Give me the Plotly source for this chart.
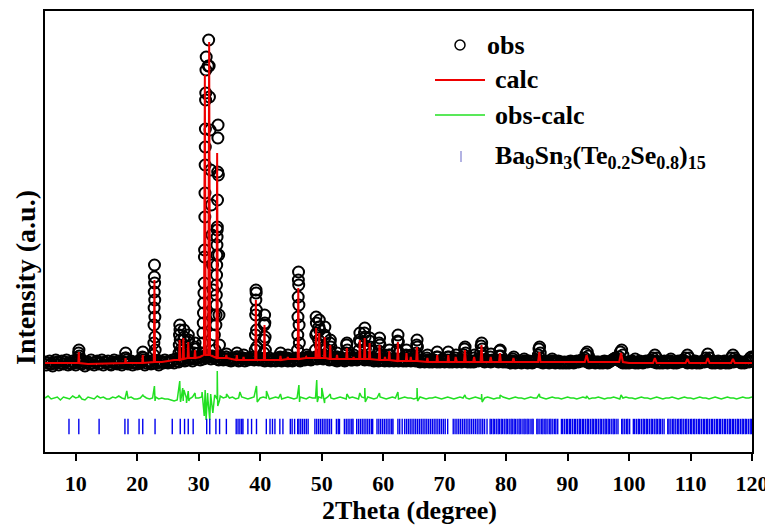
import numpy as np
import plotly.graph_objects as go

# ---------------- data (intensity in arbitrary units) ----------------
# observed scan: background samples every 0.25 deg starting at 5 deg
scan_start = 5.0
scan_step = 0.25
obs_scan_counts = [
    13, 10, 12, 14, 11, 9, 12, 15, 13, 10, 12, 14, 11, 13, 15, 10, 12, 11, 14, 12,
    10, 13, 15, 12, 11, 14, 9, 12, 13, 11, 15, 12, 10, 13, 14, 11, 12, 15, 10, 13,
    12, 14, 11, 10, 13, 15, 12, 11, 14, 12, 10, 13, 12, 15, 11, 13, 14, 10, 12, 13,
    11, 14, 12, 13, 15, 10, 12, 14, 13, 11, 12, 15, 13, 12, 10, 14, 13, 12, 15, 13,
    12, 14, 13, 15, 12, 16, 14, 13, 17, 15, 16, 14, 18, 15, 17, 16, 14, 17, 16, 18,
    17, 15, 18, 16, 19, 17, 20, 18, 16, 19, 17, 18, 16, 15, 18, 17, 15, 16, 18, 15,
    16, 14, 17, 15, 16, 18, 14, 15, 17, 16, 14, 16, 15, 17, 16, 18, 15, 17, 16, 15,
    17, 15, 16, 14, 16, 15, 17, 14, 15, 16, 14, 17, 15, 16, 14, 15, 17, 16, 14, 15,
    16, 14, 15, 17, 16, 15, 14, 16, 17, 15, 16, 18, 17, 15, 16, 17, 18, 16, 19, 17,
    18, 16, 17, 19, 16, 15, 17, 16, 15, 17, 14, 16, 15, 17, 16, 14, 15, 17, 16, 15,
    15, 16, 17, 15, 16, 18, 17, 16, 15, 17, 16, 15, 17, 16, 14, 15, 16, 14, 15, 16,
    15, 14, 16, 15, 14, 16, 15, 14, 15, 16, 14, 15, 16, 14, 15, 14, 16, 15, 14, 15,
    15, 14, 16, 14, 13, 15, 14, 13, 14, 15, 13, 14, 13, 15, 14, 13, 14, 13, 15, 14,
    13, 14, 15, 13, 14, 13, 15, 14, 13, 14, 15, 13, 14, 15, 14, 13, 14, 13, 14, 13,
    14, 15, 14, 16, 15, 14, 13, 14, 15, 14, 13, 15, 14, 15, 14, 13, 15, 14, 13, 14,
    13, 14, 13, 12, 14, 13, 12, 13, 14, 13, 12, 13, 14, 13, 12, 14, 13, 12, 13, 14,
    15, 14, 13, 14, 12, 13, 14, 13, 12, 13, 14, 13, 12, 13, 14, 12, 13, 12, 13, 12,
    13, 12, 14, 13, 12, 13, 14, 13, 14, 15, 14, 15, 14, 13, 12, 13, 14, 13, 12, 13,
    13, 12, 13, 12, 14, 13, 12, 13, 14, 15, 16, 17, 16, 15, 14, 13, 12, 13, 12, 13,
    12, 13, 14, 13, 12, 13, 12, 14, 13, 12, 13, 14, 13, 14, 15, 14, 13, 14, 12, 13,
    12, 13, 12, 14, 13, 12, 13, 14, 13, 12, 13, 12, 14, 13, 14, 15, 14, 13, 12, 13,
    13, 12, 13, 14, 12, 13, 12, 13, 14, 13, 14, 15, 14, 13, 12, 13, 12, 13, 14, 12,
    12, 13, 14, 12, 13, 12, 13, 14, 13, 14, 15, 14, 13, 12, 13, 12, 13, 14, 13, 14,
    16,
]

# observed points on the Bragg peaks
obs_peak_2theta = [
    10.42, 10.47, 10.52, 10.57,
    18.05, 18.12, 18.18,
    20.85, 20.92, 20.98,
    22.68, 22.71, 22.73, 22.75, 22.77, 22.79, 22.81, 22.83, 22.85, 22.87, 22.89, 22.92,
    26.80, 26.84, 26.88, 26.92, 26.96, 27.00, 27.05,
    27.50, 27.55, 27.60, 27.65, 27.70,
    28.20, 28.26, 28.31, 28.36, 28.42,
    29.30, 29.36, 29.41, 29.47,
    30.60, 30.66, 30.70, 30.74, 30.78, 30.82, 30.86, 30.90,
    30.93, 30.96, 31.00, 31.02, 31.05, 31.07, 31.09, 31.12, 31.15, 31.18, 31.22,
    31.55, 31.62, 31.70, 31.75,
    31.85, 31.95, 32.05, 32.15, 32.25, 32.35, 32.45, 32.55, 32.65,
    32.80, 32.83, 32.85, 32.87, 32.89, 32.91, 32.93, 32.95, 32.97, 32.99, 33.01, 33.03,
    33.06, 33.09, 33.12, 33.15, 33.20, 33.25, 33.30, 33.38,
    34.45, 34.55,
    36.15, 36.22, 36.30, 37.25, 37.32,
    39.20, 39.24, 39.27, 39.30, 39.32, 39.35, 39.38, 39.41, 39.45,
    40.60, 40.64, 40.68, 40.72, 40.76, 40.80, 40.85,
    43.25, 43.32, 43.40, 44.45, 44.52,
    46.08, 46.12, 46.15, 46.18, 46.21, 46.24, 46.27, 46.30, 46.33, 46.37,
    47.45, 47.55,
    49.00, 49.05, 49.10, 49.14, 49.18,
    49.50, 49.56, 49.62, 49.68, 49.74,
    50.40, 50.46, 50.52, 50.58, 50.65,
    51.30, 51.36, 51.42, 51.48,
    52.45, 52.52, 52.58,
    54.00, 54.06, 54.12, 54.18,
    55.15, 55.22, 55.28,
    56.10, 56.16, 56.22, 56.28,
    56.92, 56.97, 57.02, 57.07, 57.12,
    57.72, 57.78, 57.84, 57.90,
    59.30, 59.36, 59.42, 59.48, 59.55,
    60.25, 60.32,
    60.95, 61.02, 61.08,
    62.30, 62.36, 62.42, 62.48, 62.55,
    63.72, 63.80, 63.88,
    64.45, 64.52,
    65.40, 65.46, 65.52, 65.58, 65.65,
    67.15, 67.22,
    68.70, 68.80, 68.90,
    70.50, 70.60, 70.70,
    71.75, 71.85,
    73.15, 73.25, 73.33, 73.42,
    74.75, 74.85,
    75.85, 75.95, 76.03, 76.12, 76.22,
    77.45, 77.55,
    78.85, 78.95, 79.05, 79.15,
    81.10, 81.25,
    82.95,
    85.25, 85.35, 85.45, 85.55,
    87.50,
    92.80, 93.00, 93.20, 93.40,
    98.40, 98.60, 98.80, 99.00,
    101.00,
    103.90, 104.20, 104.50,
    106.80,
    109.20, 109.50, 109.80,
    112.50, 112.80, 113.10,
    116.60, 116.90, 117.20,
    119.70, 119.90,
]
obs_peak_counts = [
    17, 22, 25, 19,
    17, 22, 17,
    18, 23, 17,
    20, 32, 50, 67, 83, 98, 110, 92, 75, 58, 38, 25,
    22, 30, 40, 50, 45, 35, 25,
    25, 35, 45, 38, 28,
    24, 33, 40, 35, 24,
    22, 28, 32, 26,
    22, 32, 42, 52, 62, 72, 82, 92,
    118, 125, 158, 182, 210, 228, 246, 275, 282, 305, 318,
    309, 335, 309, 278,
    245, 205, 170, 140, 110, 85, 60, 40, 25,
    50, 60, 70, 80, 90, 100, 110, 120, 130, 138, 145, 148,
    175, 203, 237, 250, 200, 120, 60, 30,
    18, 21,
    18, 22, 18, 17, 20,
    25, 40, 60, 75, 85, 82, 65, 45, 28,
    22, 35, 50, 60, 52, 38, 25,
    18, 22, 17, 17, 20,
    25, 40, 58, 78, 95, 103, 90, 70, 50, 32,
    17, 20,
    25, 40, 58, 52, 42,
    35, 48, 55, 45, 30,
    28, 40, 48, 38, 25,
    24, 32, 35, 28,
    18, 22, 18,
    22, 30, 32, 25,
    17, 20, 17,
    25, 35, 42, 33,
    30, 42, 47, 38, 26,
    25, 34, 37, 28,
    24, 32, 37, 30, 20,
    18, 20,
    20, 25, 20,
    25, 34, 40, 33, 22,
    20, 25, 19,
    18, 20,
    22, 30, 35, 28, 19,
    17, 20,
    18, 23, 18,
    18, 23, 18,
    17, 20,
    20, 26, 28, 22,
    17, 20,
    22, 29, 32, 26, 19,
    18, 21,
    19, 24, 25, 19,
    16, 18,
    16,
    20, 26, 28, 22,
    16,
    17, 21, 23, 19,
    18, 23, 25, 20,
    16,
    17, 20, 17,
    16,
    17, 20, 17,
    17, 21, 17,
    17, 20, 17,
    17, 18,
]

# calculated profile: background vertices
calc_bg_2theta = [5, 8, 12, 16, 20, 24, 26, 28.8, 30.2, 34, 38, 42, 45, 48, 52, 56,
                  60, 64, 68, 72, 75.5, 80, 85, 90, 95, 100, 105, 110, 115, 120]
calc_bg_counts = [12, 12, 11, 12, 12, 13, 15, 17, 18, 17, 15, 15, 16, 17, 16, 16,
                  15, 14, 13, 13, 13, 13, 13, 13, 13, 12, 12, 12, 12, 12]
# calculated reflections: position, base level, apex, half width (deg)
calc_peak_2theta = [10.5, 18.1, 20.9, 22.8, 26.9, 27.5, 28.3, 29.4, 31.0, 31.7, 33.0,
                    34.5, 36.2, 37.3, 39.3, 40.7, 43.3, 44.5, 46.2, 47.5, 49.1, 49.6,
                    50.5, 51.4, 52.5, 54.1, 55.2, 56.2, 57.0, 57.8, 59.4, 60.3, 61.0,
                    62.4, 63.8, 64.5, 65.5, 67.2, 68.8, 70.6, 71.8, 73.3, 74.8, 76.0,
                    77.5, 79.0, 81.2, 85.4, 93.1, 98.7, 104.2, 109.5, 112.8, 116.9]
calc_peak_base = [12, 12, 12, 13, 15, 16, 17, 17, 20, 20, 17,
                  17, 15, 15, 15, 15, 15, 16, 16, 17, 17, 17,
                  17, 16, 16, 16, 16, 16, 16, 16, 15, 15, 15,
                  14, 14, 14, 14, 13, 13, 13, 13, 13, 13, 13,
                  13, 13, 13, 13, 13, 13, 12, 12, 12, 12]
calc_peak_top = [23, 17, 20, 95, 35, 37, 33, 25, 300, 333, 222,
                 20, 20, 18, 75, 50, 19, 18, 87, 18, 47, 42,
                 38, 30, 20, 27, 18, 35, 37, 32, 30, 18, 24,
                 33, 22, 18, 28, 17, 20, 20, 18, 25, 18, 30,
                 18, 22, 17, 23, 20, 22, 17, 16, 17, 16]
calc_peak_hw = [0.08, 0.08, 0.08, 0.1, 0.1, 0.1, 0.1, 0.1, 0.15, 0.15, 0.12,
                0.1, 0.1, 0.1, 0.1, 0.1, 0.1, 0.1, 0.1, 0.1, 0.1, 0.1,
                0.1, 0.1, 0.1, 0.1, 0.1, 0.1, 0.1, 0.1, 0.1, 0.1, 0.1,
                0.1, 0.1, 0.1, 0.12, 0.12, 0.12, 0.12, 0.12, 0.15, 0.15, 0.15,
                0.15, 0.15, 0.15, 0.2, 0.3, 0.3, 0.3, 0.3, 0.3, 0.3]

# difference curve (obs - calc) every 0.5 deg, plus peak residuals
diff_start = 5.0
diff_step = 0.5
diff_scan_counts = [
    0, 2, -1, 0, 1, -2, 1, 0, -1, 2,
    0, 1, -1, -2, 1, 0, -1, 2, 0, 1,
    -1, -1, 1, 0, 2, 0, -1, 0, 1, -1,
    -1, 0, 2, 0, -1, 0, 1, -1, 0, -1,
    -1, -2, -3, -2, 0, 1, 0, -1, 1, 0,
    0, 1, 0, -1, 1, 0, -1, 2, 0, 1,
    0, 1, -1, 0, 1, 0, -1, 0, 1, 0,
    0, 1, 0, -1, 0, 1, 0, -1, 0, 1,
    0, -1, 0, 1, 0, -1, 1, 0, 0, 1,
    0, -1, 1, 0, -1, 0, 1, 0, -1, 0,
    1, 0, -1, 1, 0, 1, 0, -1, 0, 1,
    0, -1, 0, 1, 0, -1, 0, 1, 0, 0,
    -1, 0, 1, 0, -1, 0, 0, 1, 0, -1,
    0, 1, 0, -1, 0, 1, 0, 0, -1, 0,
    1, 0, -1, 0, 1, 0, -1, 0, 0, 1,
    0, -1, 0, 1, 0, 0, -1, 0, 1, 0,
    0, 1, 0, -1, 0, 1, 0, 0, -1, 0,
    1, 0, 0, -1, 0, 1, 0, -1, 0, 0,
    1, 0, -1, 0, 0, 1, 0, -1, 0, 1,
    0, 0, -1, 0, 1, 0, 0, -1, 0, 1,
    0, -1, 0, 0, 1, 0, -1, 0, 1, 0,
    0, -1, 0, 1, 0, 0, -1, 0, 1, 0,
    -1, 0, 1, 0, 0, -1, 0, 1, 0, 0,
    1,
]
diff_peak_2theta = [10.52, 18.3, 20.92, 22.8, 22.9, 26.92, 27.05, 27.4, 27.48, 27.6, 28.02,
                    28.3, 28.4, 29.4, 30.55, 30.9, 31.05, 31.2, 31.45, 31.8, 31.95, 32.3,
                    32.6, 33.02, 33.1, 33.4, 34.52, 36.7, 39.4, 39.52, 41.02, 43.3, 46.3,
                    46.4, 49.2, 49.3, 50.02, 50.48, 51.4, 54.1, 56.2, 57.02, 57.1, 59.4,
                    62.4, 65.52, 65.6, 73.3, 76.02, 76.1, 79.02, 85.4, 93.1, 98.7]
diff_peak_counts = [3, 7, 3, 12, -3, 17, -4, 10, -3, 8, -5,
                    7, -3, 5, 6, -18, 8, -22, 5, -22, 4, -15,
                    3, 27, -8, -2, 4, 6, 12, -4, 7, 4, 13,
                    -4, 18, -4, 10, -5, 4, 4, 5, 10, -4, 5,
                    6, 10, -3, 3, 4, -4, 3, 4, 2, 3]

# Bragg reflection positions of Ba9Sn3(Te0.2Se0.8)15
hkl_2theta = [
    8.9, 10.5, 13.8, 18.0, 18.5, 20.3, 20.9, 22.9, 25.7, 27.0, 27.7, 28.3, 29.1,
    31.3, 31.8, 32.8, 33.4, 34.5, 36.1, 36.4, 36.7, 37.0, 37.2, 38.0, 38.6, 39.4,
    41.0, 41.6, 42.0, 42.4, 43.2, 43.7, 44.9, 45.2, 45.6, 46.1, 46.3, 46.6, 46.9,
    47.2, 47.5, 47.8, 48.9, 49.2, 49.5, 49.8, 50.1, 50.4, 50.7, 51.0, 51.3, 51.6,
    52.4, 52.7, 52.9, 53.7, 54.0, 54.3, 54.6, 54.9, 55.1, 55.7, 56.0, 56.3, 56.6,
    56.9, 57.2, 57.5, 57.8, 58.1, 58.3, 59.0, 59.3, 59.6, 59.9, 60.2, 60.5, 60.8,
    61.1, 61.4, 61.6, 62.4, 62.7, 63.1, 63.5, 63.8, 64.1, 64.4, 64.7, 65.0, 65.3,
    65.6, 65.9, 66.2, 66.5, 66.8, 67.1, 67.4, 67.7, 68.0, 68.3, 68.6, 68.9, 69.2,
    69.5, 69.8, 70.1, 70.5, 71.4, 71.7, 72.0, 72.3, 72.6, 72.9, 73.2, 73.5, 73.8,
    74.1, 74.4, 74.7, 75.0, 75.3, 75.6, 75.9, 76.2, 76.5, 76.9,
    77.4, 77.6, 77.9, 78.1, 78.4, 78.7, 78.9, 79.2, 79.4, 79.7, 80.0, 80.2, 80.5,
    80.8, 81.0, 81.3, 81.5, 81.8, 82.1, 82.3, 82.6, 82.9, 83.1, 83.4, 83.6, 83.9,
    84.2, 84.4, 85.0, 85.2, 85.5, 85.8, 86.0, 86.3, 86.5, 86.8, 87.1, 87.3, 87.6,
    87.9, 88.1, 88.4, 89.0, 89.2, 89.5, 89.8, 90.0, 90.3, 90.5, 90.8, 91.1, 91.3,
    91.6, 91.9, 92.1, 92.4, 92.6, 92.9, 93.2, 93.4, 93.7, 94.0, 94.2, 94.5, 94.7,
    95.0, 95.3, 95.5, 95.8, 96.1, 96.3, 96.6, 96.8, 97.1, 97.4, 97.6, 97.9, 98.2,
    98.8, 99.0, 99.3, 99.6, 99.8, 100.1, 100.7, 100.9, 101.2, 101.5, 101.7, 102.0,
    102.3, 102.5, 102.8, 103.0, 103.3, 103.6, 103.8, 104.1, 104.4, 104.6, 104.9,
    105.1, 105.4, 105.7, 106.3, 106.5, 106.8, 107.1, 107.3, 107.6, 107.9, 108.1,
    108.4, 108.6, 108.9, 109.2, 109.4, 109.7, 110.0, 110.2, 110.5, 110.7, 111.0,
    111.3, 111.5, 111.8, 112.1, 112.3, 112.6, 112.8, 113.1, 113.4, 113.6, 113.9,
    114.2, 114.4, 114.7, 114.9, 115.2, 115.5, 115.7, 116.0, 116.3, 116.5, 116.8,
    117.0, 117.3, 117.6, 117.8, 118.1, 118.4, 118.6, 118.9, 119.1, 119.4, 119.7,
    119.9,
]

x_tick_values = [10, 20, 30, 40, 50, 60, 70, 80, 90, 100, 110, 120]
x_tick_labels = ["10", "20", "30", "40", "50", "60", "70", "80", "90", "100", "110", "120"]

# ---------------- build traces ----------------
diff_offset = -23     # vertical offset of the difference curve
hkl_row = -51.5       # level of the reflection markers

obs_x = np.concatenate([scan_start + scan_step * np.arange(len(obs_scan_counts)), obs_peak_2theta])
obs_y = np.concatenate([obs_scan_counts, obs_peak_counts])

cx = list(calc_bg_2theta)
cy = list(calc_bg_counts)
for p, b, t, w in zip(calc_peak_2theta, calc_peak_base, calc_peak_top, calc_peak_hw):
    cx += [p - w, p, p + w]
    cy += [b, t, b]
order = np.argsort(cx, kind="stable")
calc_x = np.array(cx)[order]
calc_y = np.array(cy)[order]

dx = np.concatenate([diff_start + diff_step * np.arange(len(diff_scan_counts)), diff_peak_2theta])
dy = np.concatenate([diff_scan_counts, diff_peak_counts])
order = np.argsort(dx, kind="stable")
diff_x = dx[order]
diff_y = dy[order] + diff_offset

FONT = "Liberation Serif"
fig = go.Figure()
fig.add_trace(go.Scatter(x=obs_x, y=obs_y, mode="markers", name="obs",
                         marker=dict(symbol="circle-open", size=11, color="black",
                                     line=dict(width=2, color="black"))))
fig.add_trace(go.Scatter(x=calc_x, y=calc_y, mode="lines", name="calc",
                         line=dict(color="#ee0000", width=2)))
fig.add_trace(go.Scatter(x=diff_x, y=diff_y, mode="lines", name="obs-calc",
                         line=dict(color="#22e022", width=1.5)))
fig.add_trace(go.Scatter(x=hkl_2theta, y=[hkl_row] * len(hkl_2theta), mode="markers",
                         name="hkl",
                         marker=dict(symbol="line-ns", size=11, color="#0000ee",
                                     line=dict(width=1.4, color="#0000ee"))))

# ---------------- layout ----------------
# target screen pixels of the plot frame (page body adds an 8px offset)
OFF = 8
SL, SR, ST, SB = 45, 752, 11, 452
W, H = 773 - OFF, 530 - OFF


def px(xs):
    return (xs - SL) / (SR - SL)


def py(ys):
    return (SB - ys) / (SB - ST)


shapes = [
    dict(type="circle", xref="paper", yref="paper",
         x0=px(455), x1=px(465), y0=py(50), y1=py(40),
         line=dict(color="black", width=1.5)),
    dict(type="line", xref="paper", yref="paper", x0=px(435), x1=px(485),
         y0=py(80), y1=py(80), line=dict(color="#ee0000", width=2)),
    dict(type="line", xref="paper", yref="paper", x0=px(435), x1=px(485),
         y0=py(115), y1=py(115), line=dict(color="#22e022", width=1.5)),
    dict(type="line", xref="paper", yref="paper", x0=px(461), x1=px(461),
         y0=py(151), y1=py(162), line=dict(color="#8080d0", width=1.2)),
]

legend_font = dict(family=FONT, size=26, color="black", weight="bold")
annotations = [
    dict(text="obs", x=px(485), y=py(45), xanchor="left", yanchor="middle"),
    dict(text="calc", x=px(493), y=py(80), xanchor="left", yanchor="middle"),
    dict(text="obs-calc", x=px(493), y=py(115), xanchor="left", yanchor="middle"),
    dict(text="Ba<sub>9</sub>Sn<sub>3</sub>(Te<sub>0.2</sub>Se<sub>0.8</sub>)<sub>15</sub>",
         x=px(493), y=py(157), xanchor="left", yanchor="middle"),
]
for a in annotations:
    a.update(xref="paper", yref="paper", showarrow=False, font=legend_font)

annotations.append(dict(text="2Theta (degree)", xref="paper", yref="paper",
                        x=px(410), y=py(510), xanchor="center", yanchor="middle",
                        showarrow=False, font=legend_font))
annotations.append(dict(text="Intensity (a.u.)", xref="paper", yref="paper",
                        x=px(25), y=py(278), xanchor="center", yanchor="middle",
                        textangle=-90, showarrow=False,
                        font=dict(family=FONT, size=28, color="black", weight="bold")))

fig.update_layout(
    width=W, height=H,
    margin=dict(l=SL - OFF, r=W - (SR - OFF), t=ST - OFF, b=H - (SB - OFF)),
    paper_bgcolor="white", plot_bgcolor="white",
    showlegend=False,
    shapes=shapes, annotations=annotations,
    xaxis=dict(range=[5, 120], tickvals=x_tick_values, ticktext=x_tick_labels,
               ticks="outside", ticklen=7, tickwidth=1.5, tickcolor="black",
               showline=True, linewidth=2, linecolor="black", mirror=True,
               showgrid=False, zeroline=False, ticklabelstandoff=4,
               automargin=False,
               tickfont=dict(family=FONT, size=22, color="black", weight="bold")),
    yaxis=dict(range=[-77, 364], showticklabels=False, ticks="",
               showline=True, linewidth=2, linecolor="black", mirror=True,
               showgrid=False, zeroline=False, automargin=False),
)

fig.write_html("out.html")
